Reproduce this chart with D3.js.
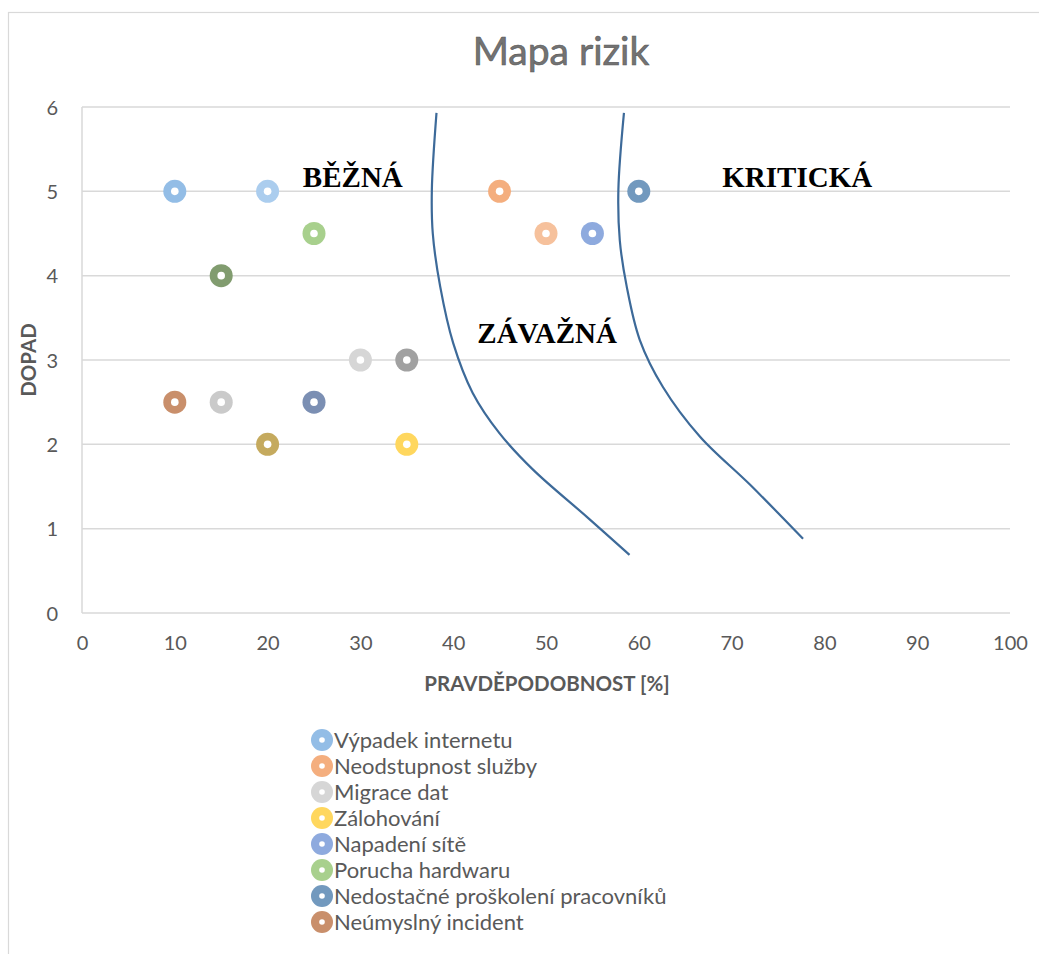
<!DOCTYPE html>
<html>
<head>
<meta charset="utf-8">
<style>
  body { margin: 0; background: #fff; }
  svg { display: block; font-family: Lato, "Open Sans", sans-serif; }
</style>
</head>
<body>
<div id="chart"></div>
<script src="https://d3js.org/d3.v7.min.js"></script>
<script>
// data (x = pravděpodobnost %, y = dopad)
const legendNames = ["Výpadek internetu", "Neodstupnost služby", "Migrace dat", "Zálohování",
  "Napadení sítě", "Porucha hardwaru", "Nedostačné proškolení pracovníků", "Neúmyslný incident"];
const pointX = [10, 45, 30, 35, 55, 25, 60, 10, 35, 20, 25, 15, 20, 50, 15];
const pointY = [5, 5, 3, 2, 4.5, 4.5, 5, 2.5, 3, 2, 2.5, 4, 5, 4.5, 2.5];
const pointColors = ["#93bde6", "#f4ae7e", "#d6d6d6", "#ffd75e", "#8eaade", "#a8d08d", "#7299be", "#c98f6b",
  "#a1a1a1", "#c5aa5e", "#7b8fb3", "#819c6f", "#abcdee", "#f6c19c", "#cacaca"];
const xTicks = [0, 10, 20, 30, 40, 50, 60, 70, 80, 90, 100];
const yTicks = [0, 1, 2, 3, 4, 5, 6];

// the two hand-drawn boundary curves
const curveA = [[38.2, 5.93], [37.7, 5.02], [37.8, 4.5], [38.6, 3.87], [40.0, 3.2], [42.1, 2.61],
  [45.0, 2.13], [48.6, 1.7], [54.4, 1.14], [59.0, 0.69]];
const curveB = [[58.4, 5.93], [57.8, 5.02], [57.95, 4.42], [58.7, 3.87], [60.1, 3.24], [62.6, 2.68],
  [66.6, 2.09], [72.0, 1.52], [77.7, 0.88]];
const zoneLabels = ["BĚŽNÁ", "ZÁVAŽNÁ", "KRITICKÁ"];
const zoneX = [23.8, 42.6, 69.0];
const zoneY = [5.05, 3.2, 5.05];

const width = 1039, height = 954;
const plotLeft = 82, plotRight = 1010, plotTop = 107, plotBottom = 613;

const svg = d3.select("#chart").append("svg")
  .attr("width", width)
  .attr("height", height);

// chart area border
svg.append("rect")
  .attr("x", 8.5).attr("y", 12.5)
  .attr("width", width + 10).attr("height", height + 10)
  .attr("fill", "#fff")
  .attr("stroke", "#d9d9d9")
  .attr("stroke-width", 1.2);

const x = d3.scaleLinear().domain([0, 100]).range([plotLeft, plotRight]);
const y = d3.scaleLinear().domain([0, 6]).range([plotBottom, plotTop]);

// gridlines
svg.append("g")
  .selectAll("line")
  .data(yTicks)
  .enter().append("line")
  .attr("x1", plotLeft).attr("x2", plotRight)
  .attr("y1", d => y(d)).attr("y2", d => y(d))
  .attr("stroke", "#d9d9d9")
  .attr("stroke-width", 1.5);

// vertical axis line
svg.append("line")
  .attr("x1", plotLeft).attr("x2", plotLeft)
  .attr("y1", y(6)).attr("y2", y(0))
  .attr("stroke", "#d9d9d9")
  .attr("stroke-width", 1.5);

// tick labels
const xAxis = svg.append("g")
  .attr("transform", `translate(0,${plotBottom + 30})`)
  .call(d3.axisBottom(x).tickValues(xTicks).tickFormat(d3.format("d")).tickSize(0).tickPadding(0));
xAxis.select(".domain").remove();
xAxis.selectAll("text")
  .attr("dy", "0.35em")
  .attr("font-size", 20)
  .attr("font-family", "Lato, sans-serif")
  .attr("fill", "#595959");

const yAxis = svg.append("g")
  .attr("transform", `translate(${plotLeft - 24},0)`)
  .call(d3.axisLeft(y).tickValues(yTicks).tickFormat(d3.format("d")).tickSize(0).tickPadding(0));
yAxis.select(".domain").remove();
yAxis.selectAll("text")
  .attr("dy", "0.35em")
  .attr("font-size", 20)
  .attr("font-family", "Lato, sans-serif")
  .attr("fill", "#595959");

// title
svg.append("text")
  .attr("x", 561).attr("y", 65)
  .attr("text-anchor", "middle")
  .attr("font-size", 39)
  .attr("fill", "#737373")
  .attr("stroke", "#595959")
  .attr("stroke-width", 0.6)
  .text("Mapa rizik");

// axis titles
svg.append("text")
  .attr("x", 547).attr("y", 691)
  .attr("text-anchor", "middle")
  .attr("font-size", 20.5)
  .attr("font-weight", "bold")
  .attr("fill", "#595959")
  .text("PRAVDĚPODOBNOST [%]");

svg.append("text")
  .attr("transform", "translate(36,360) rotate(-90)")
  .attr("text-anchor", "middle")
  .attr("font-size", 20.5)
  .attr("font-weight", "bold")
  .attr("fill", "#595959")
  .text("DOPAD");

// boundary curves
const line = d3.line()
  .x(d => x(d[0]))
  .y(d => y(d[1]))
  .curve(d3.curveCatmullRom);

[curveA, curveB].forEach(c => {
  svg.append("path")
    .attr("d", line(c))
    .attr("fill", "none")
    .attr("stroke", "#3d6a99")
    .attr("stroke-width", 2.2);
});

// zone labels
svg.append("g")
  .selectAll("text")
  .data(zoneLabels)
  .enter().append("text")
  .attr("x", (d, i) => x(zoneX[i]))
  .attr("y", (d, i) => y(zoneY[i]))
  .attr("font-family", "'Liberation Serif', 'DejaVu Serif', serif")
  .attr("font-weight", "bold")
  .attr("font-size", 29)
  .attr("fill", "#000")
  .text(d => d);

// points
const pts = svg.append("g")
  .selectAll("g")
  .data(pointX.map((v, i) => ({ x: v, y: pointY[i], c: pointColors[i] })))
  .enter().append("g")
  .attr("transform", d => `translate(${x(d.x)},${y(d.y)})`);
pts.append("circle").attr("r", 11.5).attr("fill", d => d.c);
pts.append("circle").attr("r", 3.8).attr("fill", "#fff");

// legend
const legend = svg.append("g")
  .selectAll("g")
  .data(legendNames)
  .enter().append("g")
  .attr("transform", (d, i) => `translate(322,${740 + i * 26})`);
legend.append("circle").attr("r", 11).attr("fill", (d, i) => pointColors[i]);
legend.append("circle").attr("r", 2.8).attr("fill", "#fff");
legend.append("text")
  .attr("x", 12)
  .attr("dy", "0.35em")
  .attr("font-size", 22)
  .attr("fill", "#595959")
  .text(d => d);
</script>
</body>
</html>
